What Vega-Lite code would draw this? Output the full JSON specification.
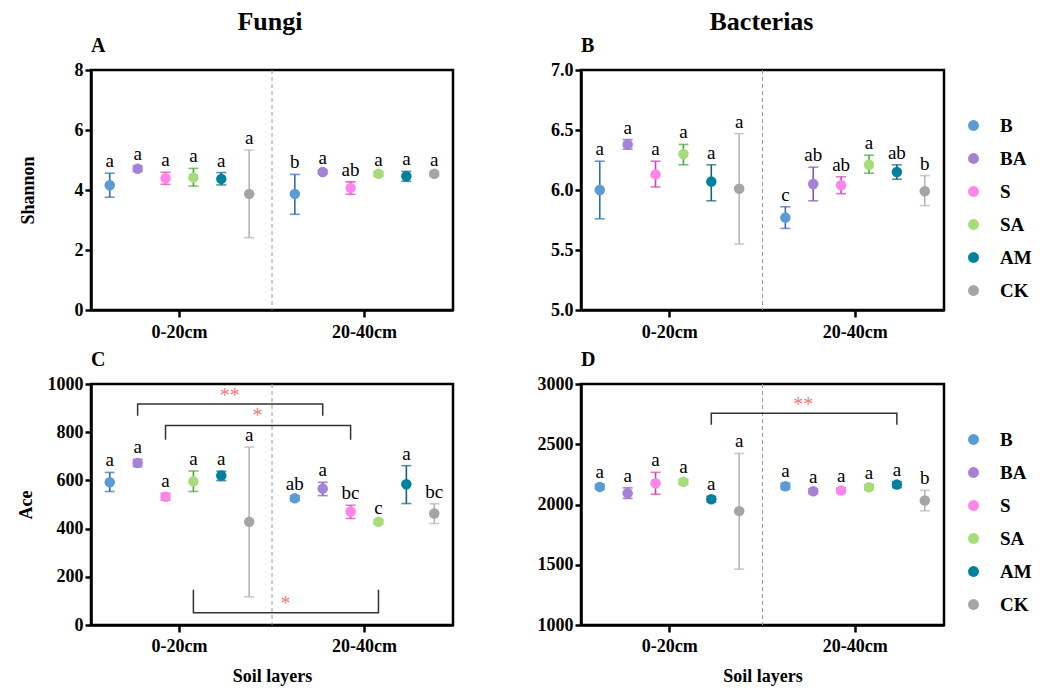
{
  "$schema": "https://vega.github.io/schema/vega-lite/v6.json",
  "background": "white",
  "padding": {"left": 15, "right": 5, "top": 8, "bottom": 5},
  "config": {
    "font": "Liberation Serif",
    "style": {
      "guide-label": {"font": "Liberation Serif", "fontWeight": "bold", "fill": "black"},
      "guide-title": {"font": "Liberation Serif", "fontWeight": "bold", "fill": "black"},
      "group-title": {"font": "Liberation Serif", "fontWeight": "bold", "fill": "black"}
    },
    "view": {"stroke": "black", "strokeWidth": 2.5},
    "axis": {
      "grid": false,
      "domainColor": "black",
      "domainWidth": 2.5,
      "tickColor": "black",
      "tickWidth": 2.5,
      "tickSize": 6,
      "labelFont": "Liberation Serif",
      "labelFontSize": 18,
      "labelFontWeight": "bold",
      "labelColor": "black",
      "titleFont": "Liberation Serif",
      "titleFontSize": 18,
      "titleFontWeight": "bold",
      "titleColor": "black"
    },
    "text": {"font": "Liberation Serif"},
    "title": {"font": "Liberation Serif", "fontWeight": "bold", "color": "black"}
  },
  "datasets": {
    "pts": [
      {"kingdom": "Fungi", "metric": "Shannon", "layer": "0-20cm", "group": "B", "mean": 4.16, "lo": 3.76, "hi": 4.56, "letter": "a"},
      {"kingdom": "Fungi", "metric": "Shannon", "layer": "0-20cm", "group": "BA", "mean": 4.71, "lo": 4.62, "hi": 4.80, "letter": "a"},
      {"kingdom": "Fungi", "metric": "Shannon", "layer": "0-20cm", "group": "S", "mean": 4.39, "lo": 4.19, "hi": 4.59, "letter": "a"},
      {"kingdom": "Fungi", "metric": "Shannon", "layer": "0-20cm", "group": "SA", "mean": 4.42, "lo": 4.13, "hi": 4.72, "letter": "a"},
      {"kingdom": "Fungi", "metric": "Shannon", "layer": "0-20cm", "group": "AM", "mean": 4.37, "lo": 4.17, "hi": 4.58, "letter": "a"},
      {"kingdom": "Fungi", "metric": "Shannon", "layer": "0-20cm", "group": "CK", "mean": 3.87, "lo": 2.41, "hi": 5.33, "letter": "a"},
      {"kingdom": "Fungi", "metric": "Shannon", "layer": "20-40cm", "group": "B", "mean": 3.87, "lo": 3.19, "hi": 4.52, "letter": "b"},
      {"kingdom": "Fungi", "metric": "Shannon", "layer": "20-40cm", "group": "BA", "mean": 4.60, "lo": 4.53, "hi": 4.67, "letter": "a"},
      {"kingdom": "Fungi", "metric": "Shannon", "layer": "20-40cm", "group": "S", "mean": 4.07, "lo": 3.86, "hi": 4.27, "letter": "ab"},
      {"kingdom": "Fungi", "metric": "Shannon", "layer": "20-40cm", "group": "SA", "mean": 4.54, "lo": 4.47, "hi": 4.61, "letter": "a"},
      {"kingdom": "Fungi", "metric": "Shannon", "layer": "20-40cm", "group": "AM", "mean": 4.46, "lo": 4.29, "hi": 4.62, "letter": "a"},
      {"kingdom": "Fungi", "metric": "Shannon", "layer": "20-40cm", "group": "CK", "mean": 4.54, "lo": 4.47, "hi": 4.61, "letter": "a"},

      {"kingdom": "Bacterias", "metric": "Shannon", "layer": "0-20cm", "group": "B", "mean": 6.00, "lo": 5.76, "hi": 6.24, "letter": "a"},
      {"kingdom": "Bacterias", "metric": "Shannon", "layer": "0-20cm", "group": "BA", "mean": 6.38, "lo": 6.34, "hi": 6.42, "letter": "a"},
      {"kingdom": "Bacterias", "metric": "Shannon", "layer": "0-20cm", "group": "S", "mean": 6.13, "lo": 6.025, "hi": 6.24, "letter": "a"},
      {"kingdom": "Bacterias", "metric": "Shannon", "layer": "0-20cm", "group": "SA", "mean": 6.30, "lo": 6.21, "hi": 6.38, "letter": "a"},
      {"kingdom": "Bacterias", "metric": "Shannon", "layer": "0-20cm", "group": "AM", "mean": 6.07, "lo": 5.91, "hi": 6.21, "letter": "a"},
      {"kingdom": "Bacterias", "metric": "Shannon", "layer": "0-20cm", "group": "CK", "mean": 6.01, "lo": 5.55, "hi": 6.47, "letter": "a"},
      {"kingdom": "Bacterias", "metric": "Shannon", "layer": "20-40cm", "group": "B", "mean": 5.77, "lo": 5.68, "hi": 5.86, "letter": "c"},
      {"kingdom": "Bacterias", "metric": "Shannon", "layer": "20-40cm", "group": "BA", "mean": 6.05, "lo": 5.91, "hi": 6.19, "letter": "ab"},
      {"kingdom": "Bacterias", "metric": "Shannon", "layer": "20-40cm", "group": "S", "mean": 6.04, "lo": 5.97, "hi": 6.11, "letter": "ab"},
      {"kingdom": "Bacterias", "metric": "Shannon", "layer": "20-40cm", "group": "SA", "mean": 6.21, "lo": 6.14, "hi": 6.29, "letter": "a"},
      {"kingdom": "Bacterias", "metric": "Shannon", "layer": "20-40cm", "group": "AM", "mean": 6.15, "lo": 6.09, "hi": 6.21, "letter": "ab"},
      {"kingdom": "Bacterias", "metric": "Shannon", "layer": "20-40cm", "group": "CK", "mean": 5.99, "lo": 5.87, "hi": 6.12, "letter": "b"},

      {"kingdom": "Fungi", "metric": "Ace", "layer": "0-20cm", "group": "B", "mean": 592, "lo": 554, "hi": 633, "letter": "a"},
      {"kingdom": "Fungi", "metric": "Ace", "layer": "0-20cm", "group": "BA", "mean": 672, "lo": 657, "hi": 687, "letter": "a"},
      {"kingdom": "Fungi", "metric": "Ace", "layer": "0-20cm", "group": "S", "mean": 532, "lo": 518, "hi": 546, "letter": "a"},
      {"kingdom": "Fungi", "metric": "Ace", "layer": "0-20cm", "group": "SA", "mean": 596, "lo": 554, "hi": 639, "letter": "a"},
      {"kingdom": "Fungi", "metric": "Ace", "layer": "0-20cm", "group": "AM", "mean": 620, "lo": 599, "hi": 638, "letter": "a"},
      {"kingdom": "Fungi", "metric": "Ace", "layer": "0-20cm", "group": "CK", "mean": 428, "lo": 117, "hi": 738, "letter": "a"},
      {"kingdom": "Fungi", "metric": "Ace", "layer": "20-40cm", "group": "B", "mean": 526, "lo": 516, "hi": 536, "letter": "ab"},
      {"kingdom": "Fungi", "metric": "Ace", "layer": "20-40cm", "group": "BA", "mean": 566, "lo": 537, "hi": 592, "letter": "a"},
      {"kingdom": "Fungi", "metric": "Ace", "layer": "20-40cm", "group": "S", "mean": 471, "lo": 442, "hi": 497, "letter": "bc"},
      {"kingdom": "Fungi", "metric": "Ace", "layer": "20-40cm", "group": "SA", "mean": 428, "lo": 420, "hi": 436, "letter": "c"},
      {"kingdom": "Fungi", "metric": "Ace", "layer": "20-40cm", "group": "AM", "mean": 584, "lo": 504, "hi": 661, "letter": "a"},
      {"kingdom": "Fungi", "metric": "Ace", "layer": "20-40cm", "group": "CK", "mean": 463, "lo": 421, "hi": 503, "letter": "bc"},

      {"kingdom": "Bacterias", "metric": "Ace", "layer": "0-20cm", "group": "B", "mean": 2146, "lo": 2126, "hi": 2166, "letter": "a"},
      {"kingdom": "Bacterias", "metric": "Ace", "layer": "0-20cm", "group": "BA", "mean": 2093, "lo": 2050, "hi": 2138, "letter": "a"},
      {"kingdom": "Bacterias", "metric": "Ace", "layer": "0-20cm", "group": "S", "mean": 2176, "lo": 2085, "hi": 2267, "letter": "a"},
      {"kingdom": "Bacterias", "metric": "Ace", "layer": "0-20cm", "group": "SA", "mean": 2188, "lo": 2168, "hi": 2208, "letter": "a"},
      {"kingdom": "Bacterias", "metric": "Ace", "layer": "0-20cm", "group": "AM", "mean": 2044, "lo": 2020, "hi": 2068, "letter": "a"},
      {"kingdom": "Bacterias", "metric": "Ace", "layer": "0-20cm", "group": "CK", "mean": 1945, "lo": 1463, "hi": 2424, "letter": "a"},
      {"kingdom": "Bacterias", "metric": "Ace", "layer": "20-40cm", "group": "B", "mean": 2151, "lo": 2126, "hi": 2176, "letter": "a"},
      {"kingdom": "Bacterias", "metric": "Ace", "layer": "20-40cm", "group": "BA", "mean": 2110, "lo": 2090, "hi": 2130, "letter": "a"},
      {"kingdom": "Bacterias", "metric": "Ace", "layer": "20-40cm", "group": "S", "mean": 2116, "lo": 2096, "hi": 2136, "letter": "a"},
      {"kingdom": "Bacterias", "metric": "Ace", "layer": "20-40cm", "group": "SA", "mean": 2143, "lo": 2123, "hi": 2163, "letter": "a"},
      {"kingdom": "Bacterias", "metric": "Ace", "layer": "20-40cm", "group": "AM", "mean": 2165, "lo": 2140, "hi": 2190, "letter": "a"},
      {"kingdom": "Bacterias", "metric": "Ace", "layer": "20-40cm", "group": "CK", "mean": 2033, "lo": 1948, "hi": 2118, "letter": "b"}
    ],
    "brk": [
      {"kingdom": "Fungi", "metric": "Ace", "id": "c1", "ord": 1, "layer": "0-20cm", "group": "BA", "y": 868},
      {"kingdom": "Fungi", "metric": "Ace", "id": "c1", "ord": 2, "layer": "0-20cm", "group": "BA", "y": 917},
      {"kingdom": "Fungi", "metric": "Ace", "id": "c1", "ord": 3, "layer": "20-40cm", "group": "BA", "y": 917},
      {"kingdom": "Fungi", "metric": "Ace", "id": "c1", "ord": 4, "layer": "20-40cm", "group": "BA", "y": 868},
      {"kingdom": "Fungi", "metric": "Ace", "id": "c2", "ord": 1, "layer": "0-20cm", "group": "S", "y": 769},
      {"kingdom": "Fungi", "metric": "Ace", "id": "c2", "ord": 2, "layer": "0-20cm", "group": "S", "y": 828},
      {"kingdom": "Fungi", "metric": "Ace", "id": "c2", "ord": 3, "layer": "20-40cm", "group": "S", "y": 828},
      {"kingdom": "Fungi", "metric": "Ace", "id": "c2", "ord": 4, "layer": "20-40cm", "group": "S", "y": 769},
      {"kingdom": "Fungi", "metric": "Ace", "id": "c3", "ord": 1, "layer": "0-20cm", "group": "SA", "y": 146},
      {"kingdom": "Fungi", "metric": "Ace", "id": "c3", "ord": 2, "layer": "0-20cm", "group": "SA", "y": 51},
      {"kingdom": "Fungi", "metric": "Ace", "id": "c3", "ord": 3, "layer": "20-40cm", "group": "SA", "y": 51},
      {"kingdom": "Fungi", "metric": "Ace", "id": "c3", "ord": 4, "layer": "20-40cm", "group": "SA", "y": 146},
      {"kingdom": "Bacterias", "metric": "Ace", "id": "d1", "ord": 1, "layer": "0-20cm", "group": "AM", "y": 2661},
      {"kingdom": "Bacterias", "metric": "Ace", "id": "d1", "ord": 2, "layer": "0-20cm", "group": "AM", "y": 2758},
      {"kingdom": "Bacterias", "metric": "Ace", "id": "d1", "ord": 3, "layer": "20-40cm", "group": "AM", "y": 2758},
      {"kingdom": "Bacterias", "metric": "Ace", "id": "d1", "ord": 4, "layer": "20-40cm", "group": "AM", "y": 2661}
    ],
    "ast": [
      {"kingdom": "Fungi", "metric": "Ace", "layer": "0-20cm", "group": "BA", "y": 972, "txt": "**"},
      {"kingdom": "Fungi", "metric": "Ace", "layer": "0-20cm", "group": "S", "y": 888, "txt": "*"},
      {"kingdom": "Fungi", "metric": "Ace", "layer": "0-20cm", "group": "SA", "y": 107, "txt": "*"},
      {"kingdom": "Bacterias", "metric": "Ace", "layer": "0-20cm", "group": "AM", "y": 2868, "txt": "**"}
    ]
  },
  "hconcat": [
    {
      "title": {"text": "Fungi", "fontSize": 26, "anchor": "middle", "offset": 0, "dx": 35},
      "spacing": 5,
      "vconcat": [
        {
          "title": {"text": "A", "anchor": "start", "frame": "group", "fontSize": 20, "offset": 5},
          "width": 362, "height": 240,
          "data": {"name": "pts"},
          "transform": [{"filter": "datum.kingdom === 'Fungi' && datum.metric === 'Shannon'"}],
          "encoding": {
            "x": {"field": "layer", "type": "nominal", "title": null,
                  "scale": {"domain": ["0-20cm", "20-40cm"], "paddingInner": 0.096, "paddingOuter": 0.026},
                  "axis": {"labelAngle": 0, "tickSize": 7, "labelPadding": 6, "labelFont": "Liberation Serif"}}
          },
          "layer": [
            {"transform": [{"filter": "datum.layer === '20-40cm' && datum.group === 'B'"}],
             "mark": {"type": "rule", "strokeDash": [4, 3], "color": "#9a9a9a", "strokeWidth": 1},
             "encoding": {"x": {"field": "layer", "type": "nominal", "title": null, "bandPosition": -0.053}}},
            {"mark": {"type": "rule", "strokeWidth": 1.6},
             "encoding": {
               "xOffset": {"field": "group", "type": "nominal", "scale": {"domain": ["B", "BA", "S", "SA", "AM", "CK"]}},
               "y": {"field": "lo", "type": "quantitative", "title": "Shannon"}, "y2": {"field": "hi"},
               "stroke": {"field": "group", "type": "nominal", "legend": null, "scale": {"domain": ["B", "BA", "S", "SA", "AM", "CK"], "range": ["#2f6db5", "#7d55c0", "#d03fb0", "#43a83a", "#1a5f78", "#b5b5b5"]}}}},
            {"mark": {"type": "tick", "orient": "horizontal", "size": 10, "thickness": 1.6},
             "encoding": {
               "xOffset": {"field": "group", "type": "nominal", "scale": {"domain": ["B", "BA", "S", "SA", "AM", "CK"]}},
               "y": {"field": "lo", "type": "quantitative", "title": "Shannon"},
               "color": {"field": "group", "type": "nominal", "legend": null, "scale": {"domain": ["B", "BA", "S", "SA", "AM", "CK"], "range": ["#2f6db5", "#7d55c0", "#d03fb0", "#43a83a", "#1a5f78", "#b5b5b5"]}}}},
            {"mark": {"type": "tick", "orient": "horizontal", "size": 10, "thickness": 1.6},
             "encoding": {
               "xOffset": {"field": "group", "type": "nominal", "scale": {"domain": ["B", "BA", "S", "SA", "AM", "CK"]}},
               "y": {"field": "hi", "type": "quantitative", "title": "Shannon"},
               "color": {"field": "group", "type": "nominal", "legend": null}}},
            {"mark": {"type": "point", "filled": true, "size": 110, "opacity": 1},
             "encoding": {
               "xOffset": {"field": "group", "type": "nominal", "scale": {"domain": ["B", "BA", "S", "SA", "AM", "CK"]}},
               "y": {"field": "mean", "type": "quantitative", "title": "Shannon",
                     "scale": {"domain": [0, 8], "nice": false, "zero": false},
                     "axis": {"values": [0, 2, 4, 6, 8], "titlePadding": 37, "labelFont": "Liberation Serif"}},
               "fill": {"field": "group", "type": "nominal", "legend": null, "scale": {"domain": ["B", "BA", "S", "SA", "AM", "CK"], "range": ["#5b9bd5", "#a682d6", "#ff85ea", "#a6dd7a", "#00829f", "#a5a5a5"]}}}},
            {"mark": {"type": "text", "fontSize": 19, "dy": -6, "baseline": "alphabetic", "color": "black", "font": "Liberation Serif"},
             "encoding": {
               "xOffset": {"field": "group", "type": "nominal", "scale": {"domain": ["B", "BA", "S", "SA", "AM", "CK"]}},
               "y": {"field": "hi", "type": "quantitative", "title": "Shannon"},
               "text": {"field": "letter"}}}
          ]
        },
        {
          "title": {"text": "C", "anchor": "start", "frame": "group", "fontSize": 20, "offset": 5},
          "width": 362, "height": 241,
          "data": {"name": "pts"},
          "transform": [{"filter": "datum.kingdom === 'Fungi' && datum.metric === 'Ace'"}],
          "encoding": {
            "x": {"field": "layer", "type": "nominal", "title": "Soil layers",
                  "scale": {"domain": ["0-20cm", "20-40cm"], "paddingInner": 0.096, "paddingOuter": 0.026},
                  "axis": {"labelAngle": 0, "tickSize": 7, "labelPadding": 5, "titlePadding": 12, "labelFont": "Liberation Serif"}}
          },
          "layer": [
            {"transform": [{"filter": "datum.layer === '20-40cm' && datum.group === 'B'"}],
             "mark": {"type": "rule", "strokeDash": [4, 3], "color": "#9a9a9a", "strokeWidth": 1},
             "encoding": {"x": {"field": "layer", "type": "nominal", "title": "Soil layers", "bandPosition": -0.053}}},
            {"data": {"name": "brk"},
             "transform": [{"filter": "datum.kingdom === 'Fungi' && datum.metric === 'Ace'"}],
             "mark": {"type": "line", "color": "#333333", "strokeWidth": 1.5},
             "encoding": {
               "xOffset": {"field": "group", "type": "nominal", "scale": {"domain": ["B", "BA", "S", "SA", "AM", "CK"]}},
               "y": {"field": "y", "type": "quantitative", "title": "Ace"},
               "detail": {"field": "id"},
               "order": {"field": "ord"}}},
            {"data": {"name": "ast"},
             "transform": [{"filter": "datum.kingdom === 'Fungi' && datum.metric === 'Ace'"}],
             "mark": {"type": "text", "fontSize": 20, "dx": 92, "dy": 5, "baseline": "middle", "color": "#f07b7b", "font": "Liberation Serif"},
             "encoding": {
               "xOffset": {"field": "group", "type": "nominal", "scale": {"domain": ["B", "BA", "S", "SA", "AM", "CK"]}},
               "y": {"field": "y", "type": "quantitative", "title": "Ace"},
               "text": {"field": "txt"}}},
            {"mark": {"type": "rule", "strokeWidth": 1.6},
             "encoding": {
               "xOffset": {"field": "group", "type": "nominal", "scale": {"domain": ["B", "BA", "S", "SA", "AM", "CK"]}},
               "y": {"field": "lo", "type": "quantitative", "title": "Ace"}, "y2": {"field": "hi"},
               "stroke": {"field": "group", "type": "nominal", "legend": null, "scale": {"domain": ["B", "BA", "S", "SA", "AM", "CK"], "range": ["#2f6db5", "#7d55c0", "#d03fb0", "#43a83a", "#1a5f78", "#b5b5b5"]}}}},
            {"mark": {"type": "tick", "orient": "horizontal", "size": 10, "thickness": 1.6},
             "encoding": {
               "xOffset": {"field": "group", "type": "nominal", "scale": {"domain": ["B", "BA", "S", "SA", "AM", "CK"]}},
               "y": {"field": "lo", "type": "quantitative", "title": "Ace"},
               "color": {"field": "group", "type": "nominal", "legend": null, "scale": {"domain": ["B", "BA", "S", "SA", "AM", "CK"], "range": ["#2f6db5", "#7d55c0", "#d03fb0", "#43a83a", "#1a5f78", "#b5b5b5"]}}}},
            {"mark": {"type": "tick", "orient": "horizontal", "size": 10, "thickness": 1.6},
             "encoding": {
               "xOffset": {"field": "group", "type": "nominal", "scale": {"domain": ["B", "BA", "S", "SA", "AM", "CK"]}},
               "y": {"field": "hi", "type": "quantitative", "title": "Ace"},
               "color": {"field": "group", "type": "nominal", "legend": null}}},
            {"mark": {"type": "point", "filled": true, "size": 110, "opacity": 1},
             "encoding": {
               "xOffset": {"field": "group", "type": "nominal", "scale": {"domain": ["B", "BA", "S", "SA", "AM", "CK"]}},
               "y": {"field": "mean", "type": "quantitative", "title": "Ace",
                     "scale": {"domain": [0, 1000], "nice": false, "zero": false},
                     "axis": {"values": [0, 200, 400, 600, 800, 1000], "format": "d", "titlePadding": 12, "labelFont": "Liberation Serif"}},
               "fill": {"field": "group", "type": "nominal", "legend": null, "scale": {"domain": ["B", "BA", "S", "SA", "AM", "CK"], "range": ["#5b9bd5", "#a682d6", "#ff85ea", "#a6dd7a", "#00829f", "#a5a5a5"]}}}},
            {"mark": {"type": "text", "fontSize": 19, "dy": -6, "baseline": "alphabetic", "color": "black", "font": "Liberation Serif"},
             "encoding": {
               "xOffset": {"field": "group", "type": "nominal", "scale": {"domain": ["B", "BA", "S", "SA", "AM", "CK"]}},
               "y": {"field": "hi", "type": "quantitative", "title": "Ace"},
               "text": {"field": "letter"}}}
          ]
        }
      ],
      "resolve": {"scale": {"x": "independent", "y": "independent", "fill": "independent", "stroke": "independent", "color": "independent"}, "legend": {"fill": "independent"}}
    },
    {
      "title": {"text": "Bacterias", "fontSize": 26, "anchor": "middle", "offset": 0, "dx": -23},
      "spacing": 5,
      "vconcat": [
        {
          "title": {"text": "B", "anchor": "start", "frame": "group", "fontSize": 20, "offset": 5},
          "width": 363, "height": 240,
          "data": {"name": "pts"},
          "transform": [{"filter": "datum.kingdom === 'Bacterias' && datum.metric === 'Shannon'"}],
          "encoding": {
            "x": {"field": "layer", "type": "nominal", "title": null,
                  "scale": {"domain": ["0-20cm", "20-40cm"], "paddingInner": 0.096, "paddingOuter": 0.026},
                  "axis": {"labelAngle": 0, "tickSize": 7, "labelPadding": 6, "labelFont": "Liberation Serif"}}
          },
          "layer": [
            {"transform": [{"filter": "datum.layer === '20-40cm' && datum.group === 'B'"}],
             "mark": {"type": "rule", "strokeDash": [4, 3], "color": "#9a9a9a", "strokeWidth": 1},
             "encoding": {"x": {"field": "layer", "type": "nominal", "title": null, "bandPosition": -0.053}}},
            {"mark": {"type": "rule", "strokeWidth": 1.6},
             "encoding": {
               "xOffset": {"field": "group", "type": "nominal", "scale": {"domain": ["B", "BA", "S", "SA", "AM", "CK"]}},
               "y": {"field": "lo", "type": "quantitative", "title": null}, "y2": {"field": "hi"},
               "stroke": {"field": "group", "type": "nominal", "legend": null, "scale": {"domain": ["CK", "AM", "SA", "S", "BA", "B"], "range": ["#b5b5b5", "#1a5f78", "#43a83a", "#d03fb0", "#7d55c0", "#2f6db5"]}}}},
            {"mark": {"type": "tick", "orient": "horizontal", "size": 10, "thickness": 1.6},
             "encoding": {
               "xOffset": {"field": "group", "type": "nominal", "scale": {"domain": ["B", "BA", "S", "SA", "AM", "CK"]}},
               "y": {"field": "lo", "type": "quantitative", "title": null},
               "color": {"field": "group", "type": "nominal", "legend": null, "scale": {"domain": ["CK", "AM", "SA", "S", "BA", "B"], "range": ["#b5b5b5", "#1a5f78", "#43a83a", "#d03fb0", "#7d55c0", "#2f6db5"]}}}},
            {"mark": {"type": "tick", "orient": "horizontal", "size": 10, "thickness": 1.6},
             "encoding": {
               "xOffset": {"field": "group", "type": "nominal", "scale": {"domain": ["B", "BA", "S", "SA", "AM", "CK"]}},
               "y": {"field": "hi", "type": "quantitative", "title": null},
               "color": {"field": "group", "type": "nominal", "legend": null}}},
            {"mark": {"type": "point", "filled": true, "size": 110, "opacity": 1},
             "encoding": {
               "xOffset": {"field": "group", "type": "nominal", "scale": {"domain": ["B", "BA", "S", "SA", "AM", "CK"]}},
               "y": {"field": "mean", "type": "quantitative", "title": null,
                     "scale": {"domain": [5, 7], "nice": false, "zero": false},
                     "axis": {"values": [5, 5.5, 6, 6.5, 7], "format": ".1f", "labelFont": "Liberation Serif"}},
               "fill": {"field": "group", "type": "nominal",
                        "scale": {"domain": ["B", "BA", "S", "SA", "AM", "CK"], "range": ["#5b9bd5", "#a682d6", "#ff85ea", "#a6dd7a", "#00829f", "#a5a5a5"]},
                        "legend": {"title": " ", "titleFontSize": 10, "titlePadding": 36, "symbolType": "circle", "symbolSize": 120, "symbolStrokeWidth": 0, "symbolOpacity": 1, "labelFont": "Liberation Serif", "labelFontSize": 19, "labelFontWeight": "bold", "labelColor": "black", "rowPadding": 13, "labelOffset": 17, "offset": 20}}}},
            {"mark": {"type": "text", "fontSize": 19, "dy": -6, "baseline": "alphabetic", "color": "black", "font": "Liberation Serif"},
             "encoding": {
               "xOffset": {"field": "group", "type": "nominal", "scale": {"domain": ["B", "BA", "S", "SA", "AM", "CK"]}},
               "y": {"field": "hi", "type": "quantitative", "title": null},
               "text": {"field": "letter"}}}
          ]
        },
        {
          "title": {"text": "D", "anchor": "start", "frame": "group", "fontSize": 20, "offset": 5},
          "width": 363, "height": 241,
          "data": {"name": "pts"},
          "transform": [{"filter": "datum.kingdom === 'Bacterias' && datum.metric === 'Ace'"}],
          "encoding": {
            "x": {"field": "layer", "type": "nominal", "title": "Soil layers",
                  "scale": {"domain": ["0-20cm", "20-40cm"], "paddingInner": 0.096, "paddingOuter": 0.026},
                  "axis": {"labelAngle": 0, "tickSize": 7, "labelPadding": 5, "titlePadding": 12, "labelFont": "Liberation Serif"}}
          },
          "layer": [
            {"transform": [{"filter": "datum.layer === '20-40cm' && datum.group === 'B'"}],
             "mark": {"type": "rule", "strokeDash": [4, 3], "color": "#9a9a9a", "strokeWidth": 1},
             "encoding": {"x": {"field": "layer", "type": "nominal", "title": "Soil layers", "bandPosition": -0.053}}},
            {"data": {"name": "brk"},
             "transform": [{"filter": "datum.kingdom === 'Bacterias' && datum.metric === 'Ace'"}],
             "mark": {"type": "line", "color": "#333333", "strokeWidth": 1.5},
             "encoding": {
               "xOffset": {"field": "group", "type": "nominal", "scale": {"domain": ["B", "BA", "S", "SA", "AM", "CK"]}},
               "y": {"field": "y", "type": "quantitative", "title": null},
               "detail": {"field": "id"},
               "order": {"field": "ord"}}},
            {"data": {"name": "ast"},
             "transform": [{"filter": "datum.kingdom === 'Bacterias' && datum.metric === 'Ace'"}],
             "mark": {"type": "text", "fontSize": 20, "dx": 92, "dy": 5, "baseline": "middle", "color": "#f07b7b", "font": "Liberation Serif"},
             "encoding": {
               "xOffset": {"field": "group", "type": "nominal", "scale": {"domain": ["B", "BA", "S", "SA", "AM", "CK"]}},
               "y": {"field": "y", "type": "quantitative", "title": null},
               "text": {"field": "txt"}}},
            {"mark": {"type": "rule", "strokeWidth": 1.6},
             "encoding": {
               "xOffset": {"field": "group", "type": "nominal", "scale": {"domain": ["B", "BA", "S", "SA", "AM", "CK"]}},
               "y": {"field": "lo", "type": "quantitative", "title": null}, "y2": {"field": "hi"},
               "stroke": {"field": "group", "type": "nominal", "legend": null, "scale": {"domain": ["CK", "AM", "SA", "S", "BA", "B"], "range": ["#b5b5b5", "#1a5f78", "#43a83a", "#d03fb0", "#7d55c0", "#2f6db5"]}}}},
            {"mark": {"type": "tick", "orient": "horizontal", "size": 10, "thickness": 1.6},
             "encoding": {
               "xOffset": {"field": "group", "type": "nominal", "scale": {"domain": ["B", "BA", "S", "SA", "AM", "CK"]}},
               "y": {"field": "lo", "type": "quantitative", "title": null},
               "color": {"field": "group", "type": "nominal", "legend": null, "scale": {"domain": ["CK", "AM", "SA", "S", "BA", "B"], "range": ["#b5b5b5", "#1a5f78", "#43a83a", "#d03fb0", "#7d55c0", "#2f6db5"]}}}},
            {"mark": {"type": "tick", "orient": "horizontal", "size": 10, "thickness": 1.6},
             "encoding": {
               "xOffset": {"field": "group", "type": "nominal", "scale": {"domain": ["B", "BA", "S", "SA", "AM", "CK"]}},
               "y": {"field": "hi", "type": "quantitative", "title": null},
               "color": {"field": "group", "type": "nominal", "legend": null}}},
            {"mark": {"type": "point", "filled": true, "size": 110, "opacity": 1},
             "encoding": {
               "xOffset": {"field": "group", "type": "nominal", "scale": {"domain": ["B", "BA", "S", "SA", "AM", "CK"]}},
               "y": {"field": "mean", "type": "quantitative", "title": null,
                     "scale": {"domain": [1000, 3000], "nice": false, "zero": false},
                     "axis": {"values": [1000, 1500, 2000, 2500, 3000], "format": "d", "labelFont": "Liberation Serif"}},
               "fill": {"field": "group", "type": "nominal",
                        "scale": {"domain": ["B", "BA", "S", "SA", "AM", "CK"], "range": ["#5b9bd5", "#a682d6", "#ff85ea", "#a6dd7a", "#00829f", "#a5a5a5"]},
                        "legend": {"title": " ", "titleFontSize": 10, "titlePadding": 36, "symbolType": "circle", "symbolSize": 120, "symbolStrokeWidth": 0, "symbolOpacity": 1, "labelFont": "Liberation Serif", "labelFontSize": 19, "labelFontWeight": "bold", "labelColor": "black", "rowPadding": 13, "labelOffset": 17, "offset": 20}}}},
            {"mark": {"type": "text", "fontSize": 19, "dy": -6, "baseline": "alphabetic", "color": "black", "font": "Liberation Serif"},
             "encoding": {
               "xOffset": {"field": "group", "type": "nominal", "scale": {"domain": ["B", "BA", "S", "SA", "AM", "CK"]}},
               "y": {"field": "hi", "type": "quantitative", "title": null},
               "text": {"field": "letter"}}}
          ]
        }
      ],
      "resolve": {"scale": {"x": "independent", "y": "independent", "fill": "independent", "stroke": "independent", "color": "independent"}, "legend": {"fill": "independent"}}
    }
  ],
  "spacing": 80,
  "resolve": {"scale": {"x": "independent", "y": "independent", "fill": "independent", "stroke": "independent", "color": "independent"}, "legend": {"fill": "independent"}}
}
